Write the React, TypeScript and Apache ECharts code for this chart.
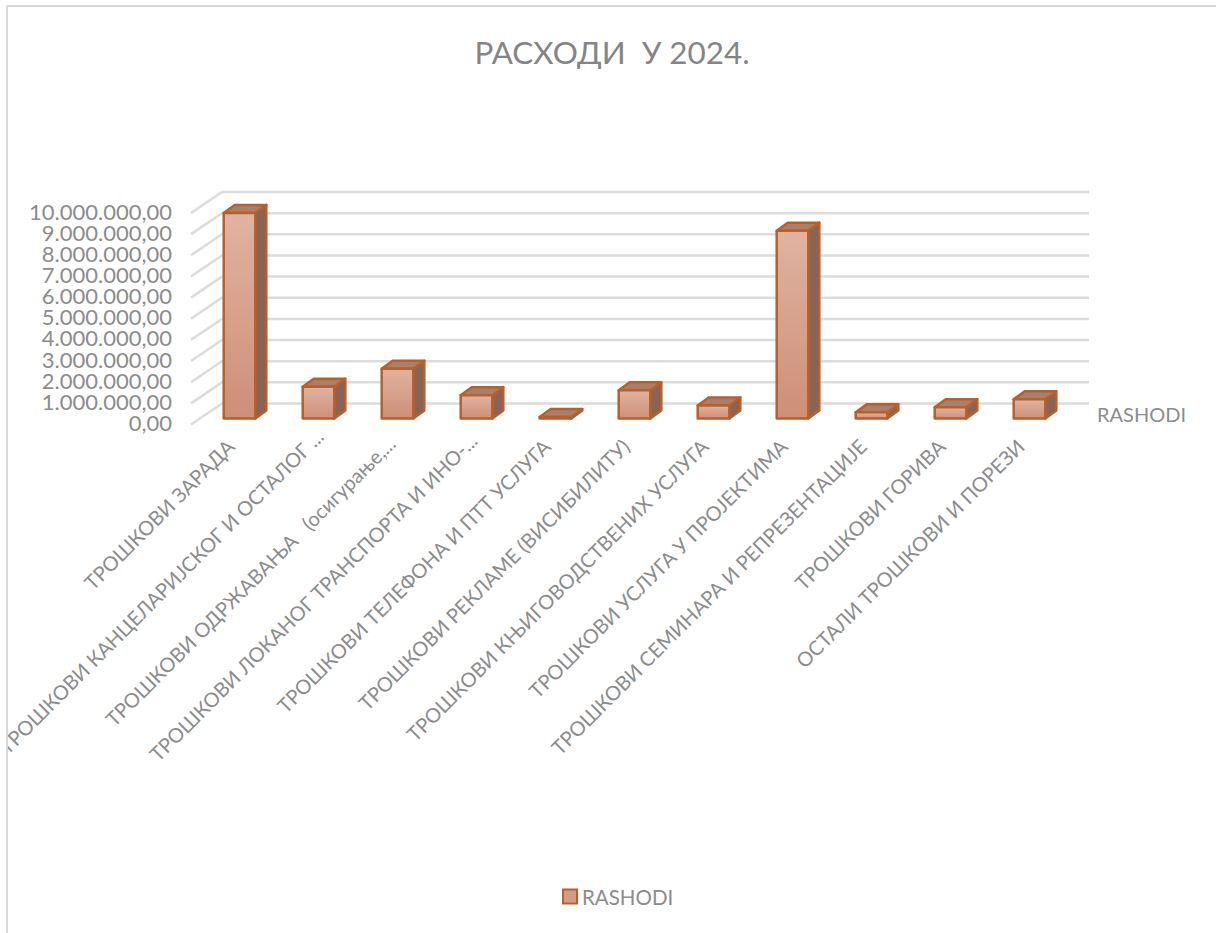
import React, { useEffect, useRef } from "react";
import * as echarts from "echarts";

const titleText = "РАСХОДИ  У 2024.";
const seriesName = "RASHODI";
const categories = [
  "ТРОШКОВИ ЗАРАДА",
  "ТРОШКОВИ КАНЦЕЛАРИЈСКОГ И ОСТАЛОГ ...",
  "ТРОШКОВИ ОДРЖАВАЊА   (осигурање,...",
  "ТРОШКОВИ ЛОКАНОГ ТРАНСПОРТА И ИНО-...",
  "ТРОШКОВИ ТЕЛЕФОНА И ПТТ УСЛУГА",
  "ТРОШКОВИ РЕКЛАМЕ (ВИСИБИЛИТУ)",
  "ТРОШКОВИ КЊИГОВОДСТВЕНИХ УСЛУГА",
  "ТРОШКОВИ УСЛУГА У ПРОЈЕКТИМА",
  "ТРОШКОВИ СЕМИНАРА И РЕПРЕЗЕНТАЦИЈЕ",
  "ТРОШКОВИ ГОРИВА",
  "ОСТАЛИ ТРОШКОВИ И ПОРЕЗИ",
];
const values = [9720000, 1500000, 2350000, 1100000, 70000, 1340000, 610000, 8880000, 290000, 530000, 910000];
const gridTicks = [0, 1000000, 2000000, 3000000, 4000000, 5000000, 6000000, 7000000, 8000000, 9000000, 10000000];

const labelNudge: Record<number, number> = { 1: -14, 2: -4, 3: -8 };

const FONT = "Lato, 'Noto Sans', sans-serif";
const TEXT = "#8c8c8c";
const WALL_DX = 31;
const WALL_DY = -21;
const WALL_TRIM = 2;
const BAR_DX = 9;
const BAR_DY = -6;
const DEPTH_DX = 11;
const DEPTH_DY = -8;
const TICK_GAP = 19;
const TICK_DY = -2;
const BORDER = "#b9602a";

const formatMoney = (v: number) =>
  v.toFixed(2).replace(".", ",").replace(/\B(?=(\d{3})+(?!\d))/g, ".");

export default function App() {
  const ref = useRef<HTMLDivElement>(null);
  useEffect(() => {
    const chart = echarts.init(ref.current!, undefined, { renderer: "svg" });
    chart.setOption({
      animation: false,
      backgroundColor: "#ffffff",
      textStyle: { fontFamily: FONT },
      title: {
        text: titleText,
        left: 607,
        textAlign: "center",
        top: 31,
        textStyle: { color: "#858585", fontSize: 31.4, fontWeight: "normal", fontFamily: FONT },
      },
      legend: {
        data: [seriesName],
        left: 557,
        top: 881,
        icon: "rect",
        itemWidth: 14,
        itemHeight: 14,
        itemGap: 4,
        textStyle: { color: TEXT, fontSize: 20.5, fontFamily: FONT, padding: [0, 0, 0, 0] },
        selectedMode: false,
      },
      grid: { left: 191, top: 213, width: 869, height: 211.5, outerBoundsMode: "none", containLabel: false },
      xAxis: {
        type: "category",
        data: categories.map((name, i) =>
          labelNudge[i] ? { value: name, textStyle: { padding: [0, labelNudge[i], 0, 0] } } : name
        ),
        axisLine: { show: false },
        axisTick: { show: false },
        splitLine: { show: false },
        axisLabel: {
          interval: 0,
          rotate: 45,
          margin: 18,
          color: TEXT,
          fontSize: 20,
          fontFamily: FONT,
          hideOverlap: false,
        },
      },
      yAxis: {
        type: "value",
        min: 0,
        max: 10000000,
        interval: 1000000,
        axisLine: { show: false },
        axisTick: { show: false },
        splitLine: { show: false },
        axisLabel: { show: false },
      },
      graphic: [
        { type: "rect", z: 100, shape: { x: 0, y: 0, width: 7, height: 933 }, style: { fill: "#ffffff" } },
        { type: "rect", z: 100, shape: { x: 0, y: 0, width: 1216, height: 6 }, style: { fill: "#ffffff" } },
        { type: "line", z: 101, shape: { x1: 7, y1: 6, x2: 1216, y2: 6 }, style: { stroke: "#d9d9d9", lineWidth: 2 } },
        { type: "line", z: 101, shape: { x1: 7, y1: 6, x2: 7, y2: 933 }, style: { stroke: "#d9d9d9", lineWidth: 2 } },
        {
          type: "text",
          x: 1097,
          y: 404,
          style: { text: seriesName, fill: TEXT, fontSize: 20, fontFamily: FONT },
        },
      ],
      series: [
        {
          type: "custom",
          name: "walls",
          z: 1,
          silent: true,
          data: gridTicks.map((t) => [0, t]),
          encode: { x: 0, y: 1 },
          renderItem: (params: any, api: any) => {
            const cs = params.coordSys;
            const v = api.value(1);
            const y = api.coord([0, v])[1];
            return {
              type: "group",
              children: [
                {
                  type: "polyline",
                  shape: {
                    points: [
                      [cs.x, y],
                      [cs.x + WALL_DX, y + WALL_DY],
                      [cs.x + WALL_DX + cs.width - WALL_TRIM, y + WALL_DY],
                    ],
                  },
                  style: { stroke: "#dcdcdc", lineWidth: 2.5, fill: "none" },
                },
                {
                  type: "text",
                  x: cs.x - TICK_GAP,
                  y: y + TICK_DY,
                  style: {
                    text: formatMoney(v),
                    fill: TEXT,
                    fontSize: 22,
                    fontFamily: FONT,
                    align: "right",
                    verticalAlign: "middle",
                  },
                },
              ],
            };
          },
        },
        {
          type: "custom",
          name: seriesName,
          z: 2,
          data: values.map((v, i) => [i, v]),
          encode: { x: 0, y: 1 },
          itemStyle: { color: "#d39c86", borderColor: BORDER, borderWidth: 2.5 },
          renderItem: (_params: any, api: any) => {
            const c = api.value(0);
            const top = api.coord([c, api.value(1)]);
            const base = api.coord([c, 0]);
            const w = api.size([1, 0])[0] * 0.4;
            const x0 = top[0] + BAR_DX - w / 2;
            const x1 = x0 + w;
            const yt = top[1] + BAR_DY;
            const yb = base[1] + BAR_DY;
            const line = { stroke: BORDER, lineWidth: 2.5, lineJoin: "round" };
            return {
              type: "group",
              children: [
                {
                  type: "polygon",
                  shape: { points: [[x1, yt], [x1 + DEPTH_DX, yt + DEPTH_DY], [x1 + DEPTH_DX, yb + DEPTH_DY], [x1, yb]] },
                  style: { fill: "#876455", ...line },
                },
                {
                  type: "polygon",
                  shape: { points: [[x0, yt], [x0 + DEPTH_DX, yt + DEPTH_DY], [x1 + DEPTH_DX, yt + DEPTH_DY], [x1, yt]] },
                  style: { fill: "#a67f6e", ...line },
                },
                {
                  type: "rect",
                  shape: { x: x0, y: yt, width: w, height: yb - yt },
                  style: {
                    fill: new echarts.graphic.LinearGradient(0, 0, 0, 1, [
                      { offset: 0, color: "#e0b3a1" },
                      { offset: 1, color: "#cd8f78" },
                    ]),
                    ...line,
                  },
                },
              ],
            };
          },
        },
      ],
    });
    return () => chart.dispose();
  }, []);
  return <div ref={ref} style={{ position: "absolute", left: 0, top: 0, width: 1216, height: 933 }} />;
}
